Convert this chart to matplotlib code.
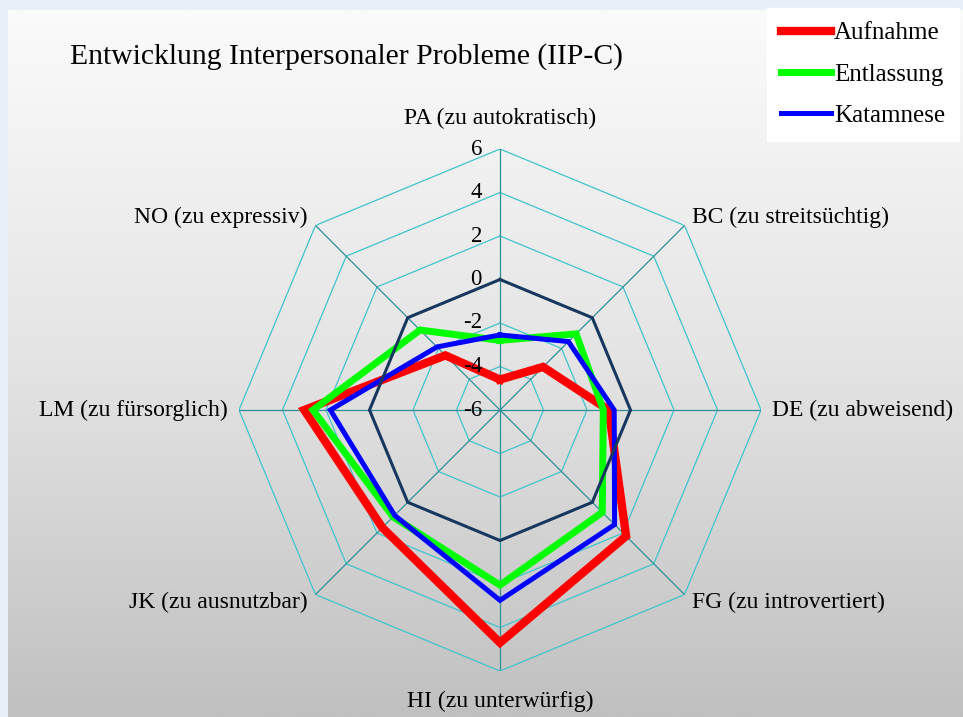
import numpy as np
import matplotlib
matplotlib.use('Agg')
import matplotlib.pyplot as plt
from matplotlib.colors import LinearSegmentedColormap

# data
categories = ['PA (zu autokratisch)', 'BC (zu streitsüchtig)', 'DE (zu abweisend)',
              'FG (zu introvertiert)', 'HI (zu unterwürfig)', 'JK (zu ausnutzbar)',
              'LM (zu fürsorglich)', 'NO (zu expressiv)']
aufnahme = [-4.6, -3.2, -1.0, 2.2, 4.7, 1.65, 3.0, -2.45]
entlassung = [-2.8, -1.05, -1.25, 0.65, 2.05, 0.95, 2.6, -0.8]
katamnese = [-2.55, -1.55, -0.75, 1.45, 2.75, 0.85, 1.8, -1.9]
ring_values = [-6, -4, -2, 0, 2, 4, 6]
series_names = ['Aufnahme', 'Entlassung', 'Katamnese']

plt.rcParams['font.family'] = ['Liberation Serif', 'DejaVu Serif']

W, H = 963, 717
fig = plt.figure(figsize=(W / 100, H / 100), dpi=100)
fig.patch.set_facecolor('#E9EFF8')

# gradient panel
bg = fig.add_axes([8 / W, 0, 1 - 8 / W, (H - 10) / H])
cmap = LinearSegmentedColormap.from_list('bg', ['#FBFBFB', '#E4E4E4', '#C0C0C0'])
bg.imshow(np.linspace(0, 1, 256).reshape(-1, 1), aspect='auto', cmap=cmap,
          extent=[0, 1, 0, 1], origin='upper')
bg.set_axis_off()

cx, cy, rad = 500, 410, 261
ax = fig.add_axes([(cx - rad) / W, (H - cy - rad) / H, 2 * rad / W, 2 * rad / H],
                  projection='polar')
ax.set_facecolor('none')
ax.set_theta_zero_location('N')
ax.set_theta_direction(-1)
ax.set_ylim(-6, 6)
ax.set_xticks([])
ax.set_yticks([])
ax.grid(False)
ax.spines['polar'].set_visible(False)

n = len(categories)
theta = np.linspace(0, 2 * np.pi, n, endpoint=False)
closed = np.append(theta, theta[0])

def close(vals):
    return list(vals) + [vals[0]]

# rings and spokes
for v in ring_values:
    if v == 0:
        continue
    ax.plot(closed, [v] * (n + 1), color='#3FC4CC', lw=0.9, zorder=1)
for t in theta:
    ax.plot([t, t], [-6, 6], color='#2E8E96', lw=0.9, zorder=1)

colors = ['#FF0000', '#00FF00', '#0000FF']
widths = [6.0, 5.0, 3.6]
for vals, name, c, w in zip([aufnahme, entlassung, katamnese], series_names, colors, widths):
    ax.plot(closed, close(vals), color=c, lw=w, label=name, zorder=3,
            solid_joinstyle='miter')

ax.plot(closed, [0] * (n + 1), color='#17375E', lw=2.2, zorder=4)

# ring value labels
for v in ring_values:
    ax.annotate(str(v), (0, v), xytext=(-13, 0), textcoords='offset points',
                ha='right', va='center', fontsize=16.5, zorder=5)

# category labels
for t, lab in zip(theta, categories):
    s = np.sin(t)
    if abs(s) < 1e-6:
        ax.text(t, 7.4, lab, ha='center', va='center', fontsize=17)
    else:
        ax.text(t, 6.5, lab, ha='left' if s > 0 else 'right', va='center', fontsize=17)

fig.text(70 / W, 1 - 57 / H, 'Entwicklung Interpersonaler Probleme (IIP-C)',
         fontsize=21.3, ha='left', va='center')

leg = ax.legend(loc='upper left', bbox_to_anchor=(767 / W, 1 - 8 / H),
                bbox_transform=fig.transFigure, frameon=True, fancybox=False,
                fontsize=18, handlelength=2.0, handletextpad=0.12,
                labelspacing=0.75, borderpad=0.55, borderaxespad=0)
leg.get_frame().set_facecolor('white')
leg.get_frame().set_edgecolor('white')
leg.get_frame().set_alpha(1)

fig.savefig('out.png', dpi=100, facecolor=fig.get_facecolor())
